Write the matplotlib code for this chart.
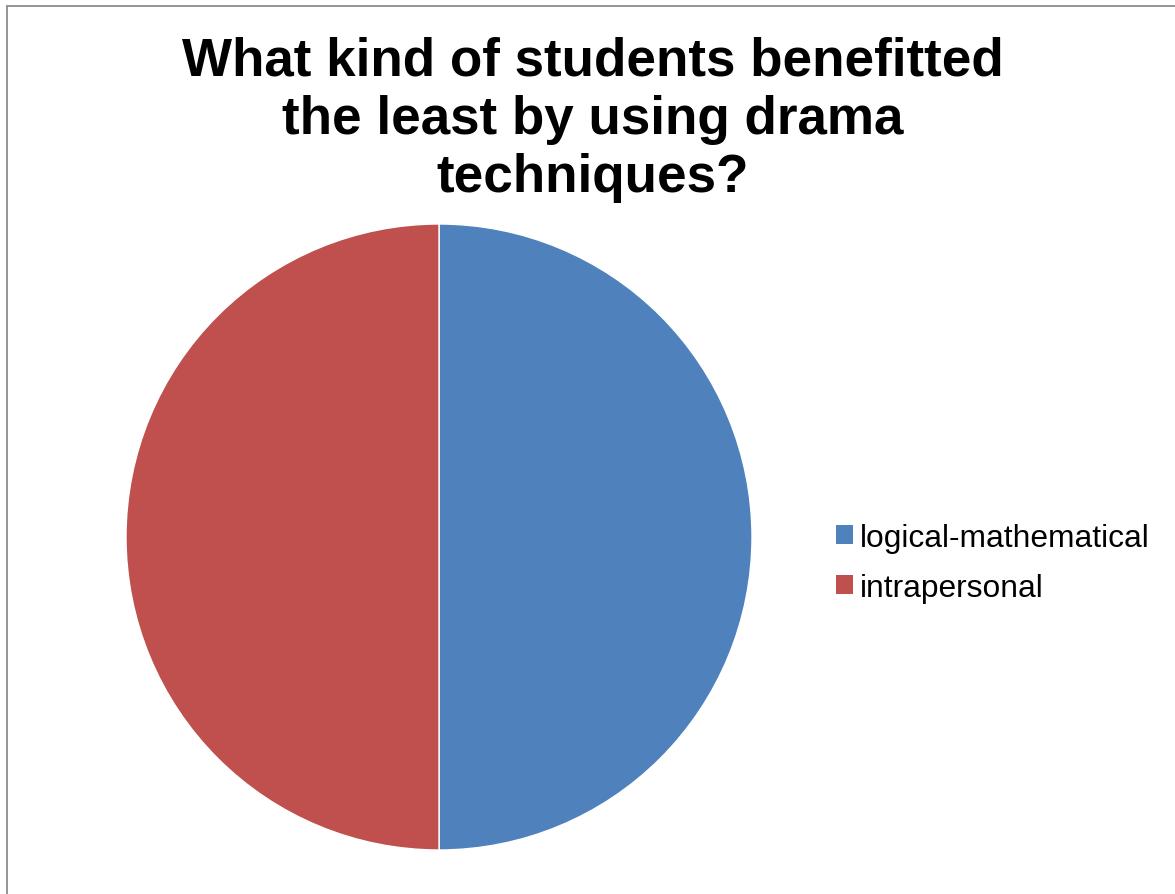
import matplotlib
matplotlib.use("Agg")
import matplotlib.pyplot as plt
from matplotlib.patches import Rectangle

categories = ["logical-mathematical", "intrapersonal"]
values = [1, 1]
colors = ["#4F81BD", "#C0504D"]
title = "What kind of students benefitted\nthe least by using drama\ntechniques?"

plt.rcParams['font.family'] = ['Liberation Sans', 'DejaVu Sans']

W, H = 1175, 895
fig = plt.figure(figsize=(W / 100, H / 100), dpi=100)
fig.patch.set_facecolor("white")

# outer border (chart area frame)
fig.patches.append(Rectangle((6.5 / W, -0.1), 1.2, (H - 6.5) / H + 0.1,
                             transform=fig.transFigure, fill=False,
                             edgecolor="#8C8C8C", linewidth=1.3))

cx, cy, r = 439, H - 538, 313
ax = fig.add_axes([(cx - r) / W, (cy - r) / H, 2 * r / W, 2 * r / H])
wedges, _ = ax.pie(values, colors=colors, startangle=90, counterclock=False,
                   radius=1, wedgeprops=dict(edgecolor="white", linewidth=1))
ax.set_xlim(-1, 1)
ax.set_ylim(-1, 1)
ax.set_aspect("equal")
ax.axis("off")

fig.text(593 / W, (H - 37) / H, title, ha="center", va="top",
         fontsize=38.2, fontweight="bold", linespacing=1.2)

leg = fig.legend(wedges, categories, loc="upper left",
                 bbox_to_anchor=(836 / W, (H - 524) / H),
                 frameon=False, fontsize=22.9, handlelength=0.53,
                 handleheight=0.53, handletextpad=0.22, labelspacing=0.63,
                 borderpad=0, borderaxespad=0)
for h in leg.legend_handles:
    h.set_edgecolor("none")

fig.savefig("out.png", dpi=100, facecolor="white")
